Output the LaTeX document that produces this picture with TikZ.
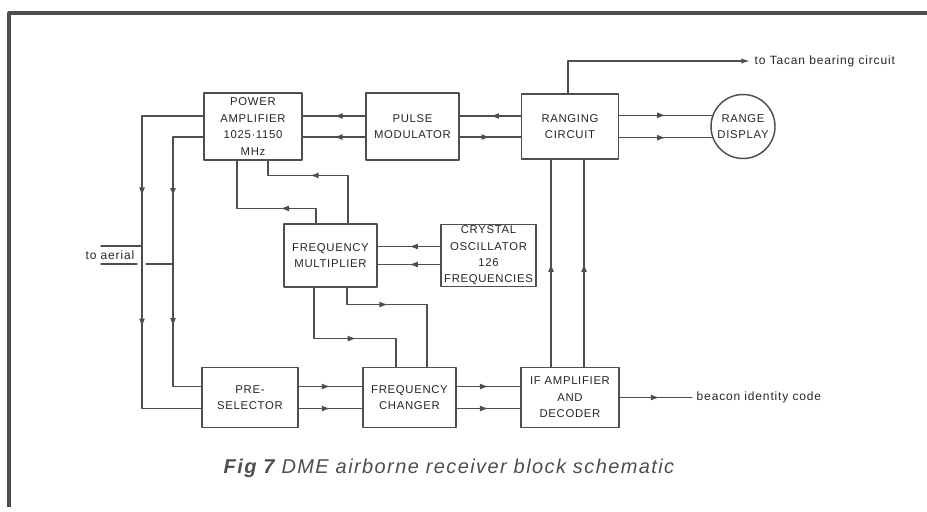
\documentclass[tikz,border=0pt]{standalone}
\usepackage{fontspec}
\usetikzlibrary{arrows.meta,decorations.markings}
\newfontfamily\boxfont[LetterSpace=6]{Liberation Sans}
\newfontfamily\capfont[LetterSpace=7]{Liberation Sans}
\definecolor{ink}{RGB}{78,78,78}
\begin{document}
\begin{tikzpicture}[x=0.75pt,y=-0.75pt,line cap=round,line join=round,
  color=ink,line width=1.1pt,
  blk/.style={draw,rectangle,minimum width=71pt,inner sep=1pt,align=center,
    text=black!85,font=\boxfont\fontsize{8.5}{12.3}\selectfont},
  lbl/.style={inner sep=3pt,text=black!85,font=\capfont\fontsize{9}{10}\selectfont},
  arrowat/.style={postaction={decorate},decoration={markings,
    mark=at position #1 with {\arrow{Latex[length=6.5pt,width=4.5pt]}}}}]
  \useasboundingbox (0,0) rectangle (927,511);
  \draw[line width=2.4pt,line cap=butt] (927,13) -- (9,13) -- (9,507);
  \node[blk,minimum width=73.5pt,minimum height=50pt] (pa) at (253,126.5) {POWER\\AMPLIFIER\\1025·1150\\MHz};
  \node[blk,minimum width=70pt,minimum height=50pt] (pm) at (412.5,126.5) {PULSE\\MODULATOR};
  \node[blk,minimum width=73pt,minimum height=48.75pt] (rc) at (570,126.5) {RANGING\\CIRCUIT};
  \node[blk,circle,minimum width=48pt,inner sep=0pt] (rd) at (743,126.5) {RANGE\\DISPLAY};
  \node[blk,minimum width=70pt,minimum height=47pt] (fm) at (330.5,255.5) {FREQUENCY\\MULTIPLIER};
  \node[blk,minimum width=71pt,minimum height=46.5pt] (co) at (488.5,255.5) {CRYSTAL\\OSCILLATOR\\126\\FREQUENCIES};
  \node[blk,minimum width=72pt,minimum height=45pt] (pre) at (250,397.5) {PRE-\\SELECTOR};
  \node[blk,minimum width=70pt,minimum height=45pt] (fc) at (409.5,397.5) {FREQUENCY\\CHANGER};
  \node[blk,minimum width=73.5pt,minimum height=45pt] (ifa) at (570,397.5) {IF AMPLIFIER\\AND\\DECODER};
  \draw[arrowat=0.5] ([shift={(0,-10.5)}]pm.west) -- ([shift={(0,-10.5)}]pa.east);
  \draw[arrowat=0.5] ([shift={(0,10.5)}]pm.west) -- ([shift={(0,10.5)}]pa.east);
  \draw[arrowat=0.5] ([shift={(0,-10.5)}]rc.west) -- ([shift={(0,-10.5)}]pm.east);
  \draw[arrowat=0.5] ([shift={(0,10.5)}]pm.east) -- ([shift={(0,10.5)}]rc.west);
  \draw[arrowat=0.5] (rc.east |- rd.160) -- (rd.160);
  \draw[arrowat=0.5] (rc.east |- rd.200) -- (rd.200);
  \coordinate (tacan) at (750,61);
  \draw[-{Latex[length=6.5pt,width=4pt]}] ([shift={(-2,0)}]rc.north) |- (tacan);
  \node[lbl,anchor=west] (tacanlbl) at (tacan) {to Tacan bearing circuit};
  \coordinate (aer1) at (142,246);
  \coordinate (aer2) at (173,264);
  \coordinate (aerialtop) at (101,246);
  \coordinate (aerialbot) at (101,264);
  \coordinate (gapl) at (137,264);
  \coordinate (gapr) at (146,264);
  \draw[arrowat=106pt] ([shift={(0,-10.5)}]pa.west) -| (aer1);
  \draw[arrowat=61pt] (aer1) |- ([shift={(0,11)}]pre.west);
  \draw[arrowat=67.5pt] ([shift={(0,10.5)}]pa.west) -| (aer2);
  \draw[arrowat=47pt] (aer2) |- ([shift={(0,-11)}]pre.west);
  \draw (aer1) -- (aerialtop);
  \draw (aer2) -- (gapr);
  \draw (gapl) -- (aerialbot);
  \node[lbl,anchor=east] (aerial) at (139,255) {to aerial};
  \draw[arrowat=38pt] ([shift={(-14.5,0)}]fm.north) -- ++(0,-15) -| ([shift={(-16,0)}]pa.south);
  \draw[arrowat=64.5pt] ([shift={(17.5,0)}]fm.north) -- ++(0,-48) -| ([shift={(15,0)}]pa.south);
  \draw[arrowat=0.5] ([shift={(0,-9)}]co.west) -- ([shift={(0,-9)}]fm.east);
  \draw[arrowat=0.5] ([shift={(0,9)}]co.west) -- ([shift={(0,9)}]fm.east);
  \draw[arrowat=70pt] ([shift={(-16.5,0)}]fm.south) -- ++(0,51) -| ([shift={(-13.5,0)}]fc.north);
  \draw[arrowat=43.5pt] ([shift={(16.5,0)}]fm.south) -- ++(0,17) -| ([shift={(17.5,0)}]fc.north);
  \draw[arrowat=0.5] ([shift={(0,-11)}]pre.east) -- ([shift={(0,-11)}]fc.west);
  \draw[arrowat=0.5] ([shift={(0,11)}]pre.east) -- ([shift={(0,11)}]fc.west);
  \draw[arrowat=0.5] ([shift={(0,-11)}]fc.east) -- ([shift={(0,-11)}]ifa.west);
  \draw[arrowat=0.5] ([shift={(0,11)}]fc.east) -- ([shift={(0,11)}]ifa.west);
  \draw[arrowat=0.5] ([shift={(-19,0)}]ifa.north) -- ([shift={(-19,0)}]rc.south);
  \draw[arrowat=0.5] ([shift={(14,0)}]ifa.north) -- ([shift={(14,0)}]rc.south);
  \coordinate (beacon) at (692,397.5);
  \draw[arrowat=0.55] (ifa.east) -- (beacon);
  \node[lbl,anchor=west] (beaconlbl) at (beacon) {beacon identity code};
  \node[text=ink,font=\capfont\fontsize{15}{17}\selectfont\itshape] (caption) at (449,468)
    {\textbf{Fig 7} DME airborne receiver block schematic};
\end{tikzpicture}
\end{document}
